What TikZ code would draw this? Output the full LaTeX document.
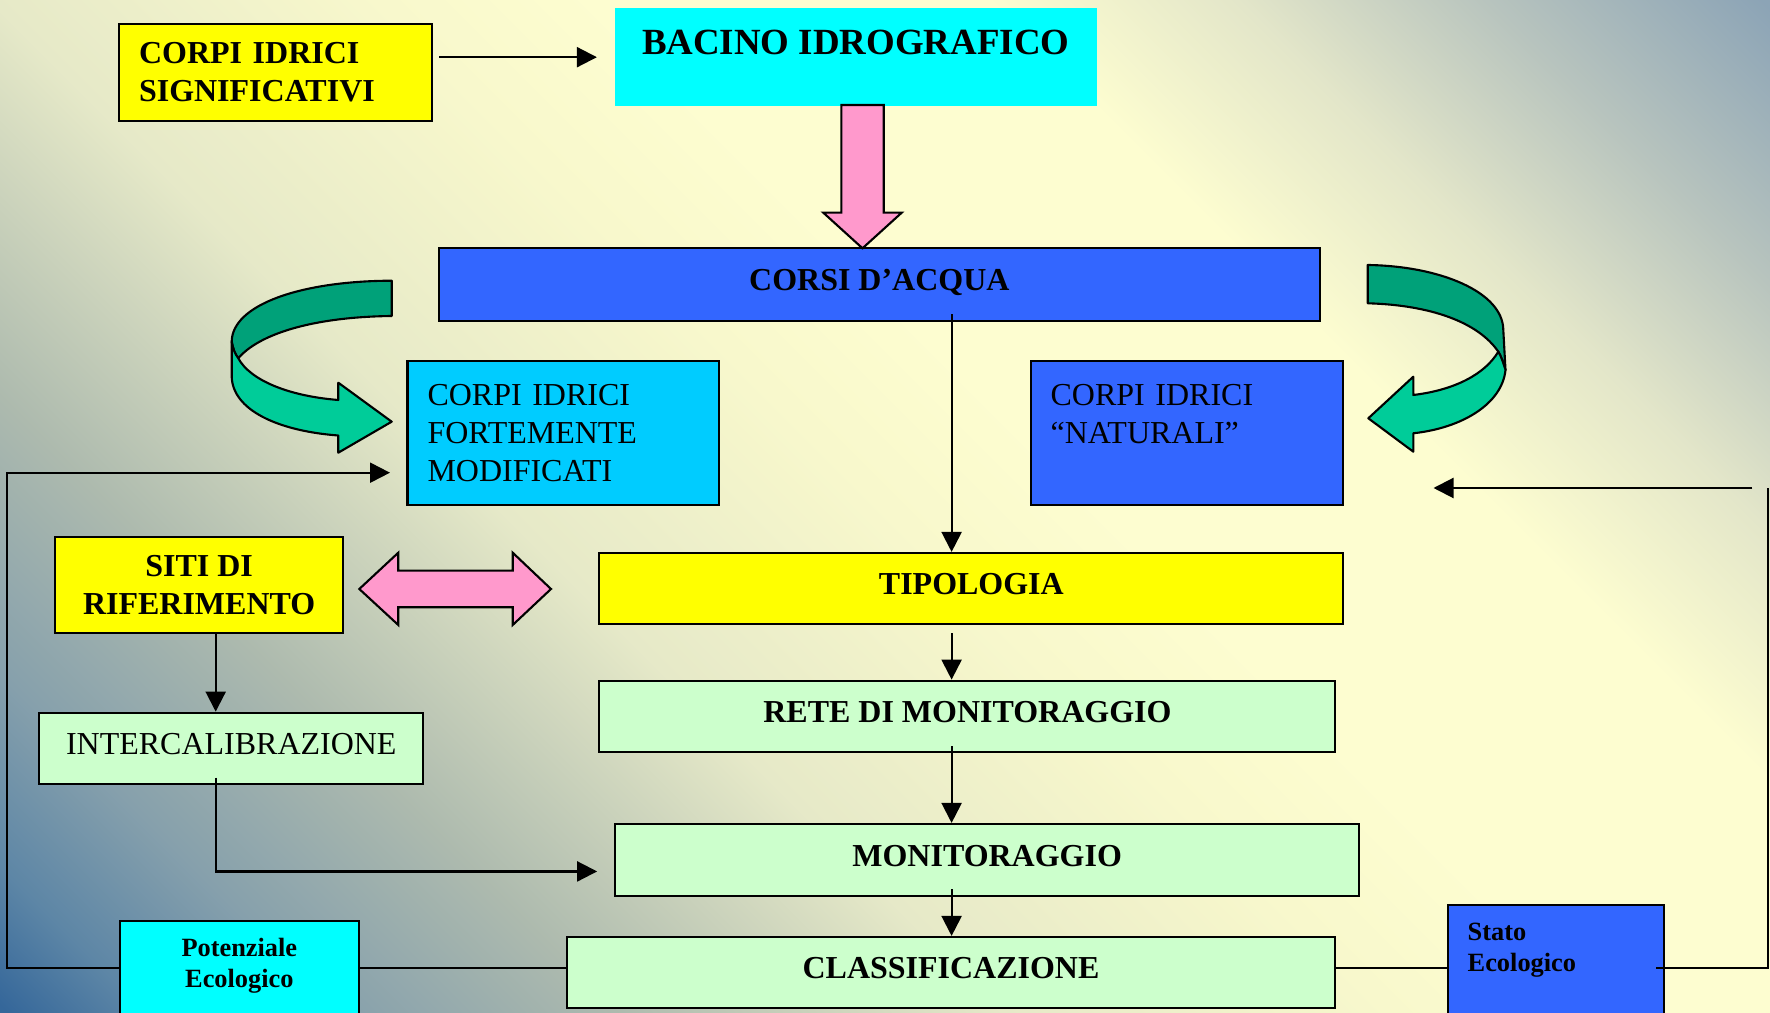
\documentclass[tikz,border=0pt]{standalone}
\usepackage{fontspec}
\setmainfont{Liberation Serif}
\usetikzlibrary{arrows.meta}

\definecolor{boxyellow}{HTML}{FFFF00}
\definecolor{boxcyan}{HTML}{00FFFF}
\definecolor{boxsky}{HTML}{00CCFF}
\definecolor{boxblue}{HTML}{3366FF}
\definecolor{boxmint}{HTML}{CCFFCC}
\definecolor{arrowpink}{HTML}{FF99CC}
\definecolor{greendark}{HTML}{00A179}
\definecolor{greenlight}{HTML}{00CC99}

\definecolor{bga}{HTML}{35679A}
\definecolor{bgb}{HTML}{5D86A6}
\definecolor{bgc}{HTML}{86A0AC}
\definecolor{bgd}{HTML}{ADBAAE}
\definecolor{bge}{HTML}{E6E9C8}
\definecolor{bgf}{HTML}{F8F8CC}
\definecolor{bgg}{HTML}{FDFDD0}
\definecolor{bgh}{HTML}{E3E6C9}
\definecolor{bgi}{HTML}{B8C4BE}
\definecolor{bgj}{HTML}{8CA4B6}

\pgfdeclarehorizontalshading{slidebg}{100bp}{color(0bp)=(bga); color(22.2bp)=(bga);
  color(24.98bp)=(bgb); color(28.87bp)=(bgc); color(34.43bp)=(bgd); color(42.22bp)=(bge);
  color(50bp)=(bgf); color(54.45bp)=(bgg); color(62.23bp)=(bgg); color(67.24bp)=(bgh);
  color(72.24bp)=(bgi); color(77.8bp)=(bgj); color(100bp)=(bgj)}

\newcommand{\slidefont}{\fontsize{9.1}{10.9}\selectfont}
\newcommand{\slidebig}{\fontsize{10.5}{12.6}\selectfont}
\newcommand{\slidesmall}{\fontsize{7.5}{8.8}\selectfont}

\begin{document}
\begin{tikzpicture}[x=0.1mm, y=-0.1mm,
  box/.style={draw=black, line width=0.6pt, inner sep=0pt},
  one/.style={box, text height=2.3mm, text depth=1.1mm, font=\bfseries\slidefont},
  multi/.style={box, inner xsep=2mm, align=left},
  conn/.style={line width=0.6pt, -{Triangle[length=2mm,width=2mm]}},
  wire/.style={line width=0.6pt},
  blockpink/.style={draw=black, line width=0.6pt, fill=arrowpink, line join=miter},
  ribbon/.style={draw=black, line width=0.6pt, line join=round}]

% Background of the slide
\begin{scope}
  \clip (0,0) rectangle (1770,1013);
  \shade[shading=slidebg, shading angle=45] (0,-378.5) rectangle (1770,1391.5);
\end{scope}
\useasboundingbox (0,0) rectangle (1770,1013);

% Curved green arrows
\draw[ribbon, fill=greendark] (391.7,280.7) .. controls (300,281) and (232,305) .. (231.7,341.7)
  .. controls (233,349) and (235,354) .. (238.3,358.3)
  .. controls (258,335) and (310,317) .. (391.7,316) -- cycle;
\draw[ribbon, fill=greenlight] (231.7,341.7) -- (231.7,376)
  .. controls (232,410) and (278,431) .. (338.3,435.5) -- (338.3,452.7) -- (391.7,421.7)
  -- (338.3,382.7) -- (338.3,400) .. controls (288,396) and (250,380) .. (238.3,358.3)
  .. controls (235,354) and (233,349) .. (231.7,341.7) -- cycle;
\draw[ribbon, fill=greendark] (1367.7,265) .. controls (1440,266) and (1503,292) .. (1503.3,330)
  -- (1505.5,370) .. controls (1503,362) and (1501,356) .. (1498.3,351.7)
  .. controls (1478,322) and (1430,305) .. (1367.7,303.3) -- cycle;
\draw[ribbon, fill=greenlight] (1498.3,351.7) .. controls (1501,356) and (1503,362) .. (1505.5,370)
  .. controls (1502,404) and (1462,428) .. (1413.3,433.3) -- (1413.3,451.7) -- (1368.3,418.3)
  -- (1413.3,376.7) -- (1413.3,395) .. controls (1455,390) and (1485,374) .. (1498.3,351.7) -- cycle;

% Boxes
\node[multi, fill=boxyellow, minimum width=31.33mm, minimum height=9.64mm, text width=27.33mm,
  font=\bfseries\slidefont] (sig) at (275.7,72.5) {CORPI IDRICI\\SIGNIFICATIVI};
\node[box, draw=none, fill=boxcyan, minimum width=48.17mm, minimum height=9.77mm,
  text height=2.4mm, text depth=2.84mm, font=\bfseries\slidebig] (bacino) at (855.8,57.2) {BACINO IDROGRAFICO};
\node[one, fill=boxblue, minimum width=88.05mm, minimum height=7.23mm] (corsi) at (879.35,284.45) {CORSI D’ACQUA};
\node[multi, fill=boxsky, minimum width=31.15mm, minimum height=14.34mm, text width=27.15mm,
  font=\slidefont] (forte) at (563.25,432.9) {CORPI IDRICI\\FORTEMENTE\\MODIFICATI};
\node[multi, fill=boxblue, minimum width=31.27mm, minimum height=14.34mm, text width=27.27mm,
  font=\slidefont] (natur) at (1186.95,432.9) {CORPI IDRICI\\“NATURALI”\\\mbox{}};
\node[box, fill=boxyellow, minimum width=28.83mm, minimum height=9.57mm, align=center,
  font=\bfseries\slidefont] (siti) at (199.15,584.85) {SITI DI\\RIFERIMENTO};
\node[one, fill=boxyellow, minimum width=74.39mm, minimum height=7.12mm] (tipo) at (971.35,588.6) {TIPOLOGIA};
\node[one, fill=boxmint, minimum width=73.6mm, minimum height=7.11mm] (rete) at (967.4,716.25) {RETE DI MONITORAGGIO};
\node[one, fill=boxmint, minimum width=74.39mm, minimum height=7.23mm] (monit) at (987.15,860.15) {MONITORAGGIO};
\node[one, fill=boxmint, minimum width=76.87mm, minimum height=7.1mm] (classif) at (951.05,972.5) {CLASSIFICAZIONE};
\node[one, fill=boxmint, font=\slidefont, minimum width=38.4mm, minimum height=7.16mm] (inter) at (231.3,748.5) {INTERCALIBRAZIONE};
\node[box, fill=boxcyan, minimum width=23.93mm, minimum height=11.5mm, align=center,
  font=\bfseries\slidesmall] (poten) at (239.35,978.6) {Potenziale\\Ecologico\\\mbox{}};
\node[multi, fill=boxblue, minimum width=21.63mm, minimum height=11.6mm, text width=17.63mm,
  font=\bfseries\slidesmall] (stato) at (1555.85,963) {Stato\\Ecologico\\\mbox{}};

% Block arrows
\draw[blockpink] (841.3,105) -- (883.7,105) -- (883.7,212.7) -- (901.7,212.7) -- (862.5,248.3)
  -- (823.3,212.7) -- (841.3,212.7) -- cycle;
\draw[blockpink] (359.3,589) -- (398.3,552.7) -- (398.3,570.7) -- (512.7,570.7) -- (512.7,552.7)
  -- (551,589) -- (512.7,625) -- (512.7,607.3) -- (398.3,607.3) -- (398.3,625) -- cycle;

% Helper coordinates
\coordinate (spine) at (951.6,0);
\coordinate (lcol) at (215.7,0);
\coordinate (bus) at (0,968);
\coordinate (lx) at (7.3,0);
\coordinate (rx) at (1768.3,488);
\coordinate (fin) at (390,472.7);
\coordinate (natin) at (1433.5,488);

% Connectors
\draw[conn] ([xshift=0.6mm]sig.east |- bacino.west) -- ([xshift=-1.7mm]bacino.west);
\draw[conn] ([yshift=0.76mm]corsi.south -| spine) -- (tipo.north -| spine);
\draw[conn] ([yshift=-0.78mm]tipo.south -| spine) -- (rete.north -| spine);
\draw[conn] ([yshift=0.68mm]rete.south -| spine) -- (monit.north -| spine);
\draw[conn] ([yshift=0.83mm]monit.south -| spine) -- (classif.north -| spine);
\draw[conn] (siti.south -| lcol) -- (inter.north -| lcol);
\draw[conn] ([yshift=0.77mm]inter.south -| lcol) |- ([xshift=-1.7mm,yshift=-1.13mm]monit.west);
\draw[conn] (poten.west |- bus) -| (lx |- fin) -- (fin);
\draw[wire] (poten.east |- bus) -- (classif.west |- bus);
\draw[wire] (classif.east |- bus) -- (stato.west |- bus);
\draw[wire] ([xshift=-0.9mm]stato.east |- bus) -| (rx);
\draw[conn] ([xshift=-1.6mm]rx) -- (natin);

\end{tikzpicture}
\end{document}
